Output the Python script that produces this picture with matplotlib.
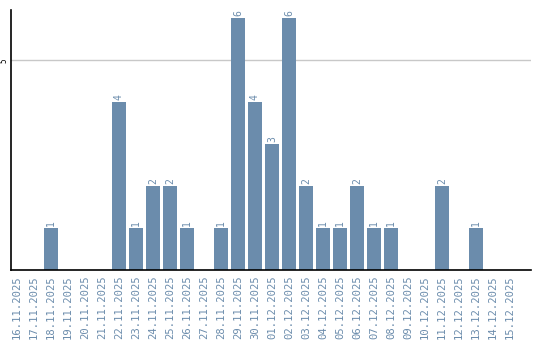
import numpy as np
import matplotlib.pyplot as plt

dates = ['16.11.2025', '17.11.2025', '18.11.2025', '19.11.2025', '20.11.2025',
         '21.11.2025', '22.11.2025', '23.11.2025', '24.11.2025', '25.11.2025',
         '26.11.2025', '27.11.2025', '28.11.2025', '29.11.2025', '30.11.2025',
         '01.12.2025', '02.12.2025', '03.12.2025', '04.12.2025', '05.12.2025',
         '06.12.2025', '07.12.2025', '08.12.2025', '09.12.2025', '10.12.2025',
         '11.12.2025', '12.12.2025', '13.12.2025', '14.12.2025', '15.12.2025']
counts = [0, 0, 1, 0, 0, 0, 4, 1, 2, 2, 1, 0, 1, 6, 4,
          3, 6, 2, 1, 1, 2, 1, 1, 0, 0, 2, 0, 1, 0, 0]

bar_color = '#6b8cac'
label_color = '#6b8cac'
mono = 'DejaVu Sans Mono'

fig = plt.figure(figsize=(5.4, 3.4), dpi=100)
ax = fig.add_axes([0.0204, 0.206, 0.963, 0.765])

x = np.arange(len(dates))
ax.bar(x, counts, width=0.82, color=bar_color, zorder=2)

# подписи значений над столбцами
for xi, c in zip(x, counts):
    if c > 0:
        ax.text(xi, c + 0.05, str(c), rotation=90, ha='center', va='bottom',
                fontsize=7, family=mono, color=label_color)

ax.set_xlim(-0.35, 30.24)
ax.set_ylim(0, 6.2)
ax.set_xticks(x)
ax.set_xticklabels(dates, rotation=90, fontsize=7.6, family=mono, color=label_color)
ax.set_yticks([5])
ax.set_yticklabels(['5'], rotation=90, fontsize=5.5, family=mono, va='center')
ax.tick_params(axis='x', length=0, pad=4)
ax.tick_params(axis='y', length=0, pad=1.5)
ax.axhline(5, color='#c8c8c8', linewidth=1, zorder=1)

for s in ['top', 'right']:
    ax.spines[s].set_visible(False)
ax.spines['left'].set_linewidth(1.2)
ax.spines['bottom'].set_linewidth(1.2)

fig.savefig('out.png', dpi=100)
